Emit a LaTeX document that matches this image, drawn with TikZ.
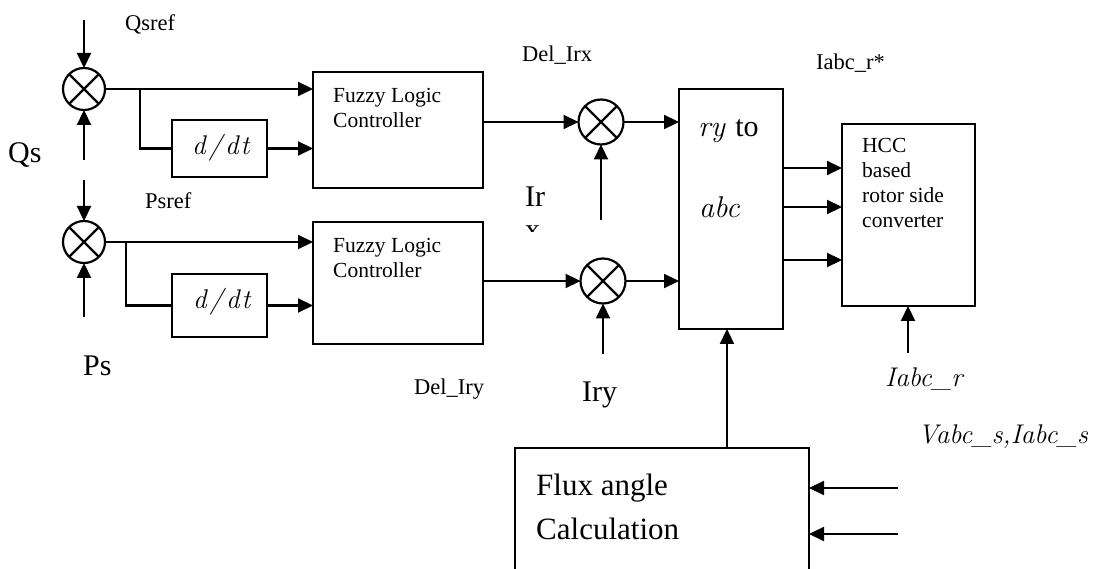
\documentclass[tikz,border=0pt]{standalone}
\usepackage{fontspec}
\setmainfont{Liberation Serif}
\newfontfamily\lmfont{Latin Modern Roman}
\usetikzlibrary{arrows.meta}
\tikzset{
  ln/.style={line width=2.2pt},
  arr/.style={ln, -{Triangle[length=15pt,width=14pt]}},
  blk/.style={draw, ln, rectangle, inner sep=0pt, outer sep=0pt, anchor=north west},
  sumj/.style={draw, ln, circle, inner sep=0pt, outer sep=0pt, minimum size=#1},
  lbl/.style={anchor=base west, inner sep=0pt, font=\fontsize{22.5}{27}\selectfont},
  big/.style={anchor=base west, inner sep=0pt, font=\fontsize{30}{36}\selectfont},
  boxtxt/.style={anchor=north west, inner sep=0pt, align=left, font=\fontsize{21.5}{25}\selectfont},
  mth/.style={anchor=base west, inner sep=0pt, font=\lmfont\itshape\fontsize{#1}{#1}\selectfont},
  mth/.default=30
}
\begin{document}
\begin{tikzpicture}[x=1pt,y=-1pt]
\useasboundingbox (0,0) rectangle (1104,569);
\clip (0,0) rectangle (1104,569);

% summing junctions
\node[sumj=42] (S1) at (84,89) {};
\node[sumj=42] (S2) at (84,242) {};
\node[sumj=45] (M1) at (601,122) {};
\node[sumj=45] (M2) at (603,281) {};
\foreach \s in {S1,S2,M1,M2}{
  \draw[ln] (\s.north west) -- (\s.south east) (\s.north east) -- (\s.south west);
}

% blocks
\node[blk, minimum width=95, minimum height=57] (D1) at (172,120) {};
\node[blk, minimum width=95, minimum height=63] (D2) at (172,274) {};
\node[blk, minimum width=170, minimum height=116] (F1) at (313,72) {};
\node[blk, minimum width=170, minimum height=122] (F2) at (313,222) {};
\node[blk, minimum width=104, minimum height=240] (RA) at (679,89) {};
\node[blk, minimum width=133, minimum height=182] (H) at (842,124) {};
\node[blk, minimum width=294, minimum height=200] (FA) at (515,448) {};

% free ends
\coordinate (qref) at (84,20);
\coordinate (qs) at (84,160);
\coordinate (pref) at (84,180);
\coordinate (ps) at (84,317);
\coordinate (b1) at (140,89);
\coordinate (b2) at (126,242);
\coordinate (irx) at (601,220);
\coordinate (iry) at (603,354);
\coordinate (ir) at (908,353);
\coordinate (fa1) at (727,448);
\coordinate (v1) at (898,488);
\coordinate (v2) at (898,534);

% connectors
\draw[arr] (qref) -- (S1);
\draw[arr] (qs) -- (S1);
\draw[arr] (pref) -- (S2);
\draw[arr] (ps) -- (S2);
\draw[arr] (S1.east) -- (S1.east -| F1.west);
\draw[arr] (S2.east) -- (S2.east -| F2.west);
\draw[ln] (b1) |- (D1.west);
\draw[ln] (b2) |- (D2.west);
\draw[arr] (D1.east) -- (D1.east -| F1.west);
\draw[arr] (D2.east) -- (D2.east -| F2.west);
\draw[arr] (F1.east |- M1) -- (M1.west);
\draw[arr] (F2.east |- M2) -- (M2.west);
\draw[arr] (irx) -- (M1);
\draw[arr] (iry) -- (M2);
\draw[arr] (M1.east) -- (M1.east -| RA.west);
\draw[arr] (M2.east) -- (M2.east -| RA.west);
\foreach \y in {168,207,260}{
  \draw[arr] (RA.east |- 0,\y) -- (H.west |- 0,\y);
}
\draw[arr] (ir) -- (ir |- H.south);
\draw[arr] (fa1) -- (fa1 |- RA.south);
\draw[arr] (v1) -- (v1 -| FA.east);
\draw[arr] (v2) -- (v2 -| FA.east);

% labels
\node[lbl] (tQsref) at (125,31) {Qsref};
\node[lbl] (tPsref) at (145,209) {Psref};
\node[big] (tQs) at (8,163) {Qs};
\node[big] (tPs) at (83,376) {Ps};
\node[lbl] (tDelx) at (522,62) {Del\_Irx};
\node[lbl] (tDely) at (414,395) {Del\_Iry};
\node[lbl] (tIabcstar) at (816,70) {Iabc\_r*};
\node[big] (tIr) at (525,207) {Ir};
\begin{scope}
  \clip (515,225) rectangle (550,232);
  \node[big] (tIrfrag) at (525,240) {x};
\end{scope}
\node[big] (tIry) at (582,402) {Iry};
\node[boxtxt] (tF1) at (333,88) {Fuzzy Logic\\Controller};
\node[boxtxt] (tF2) at (333,238) {Fuzzy Logic\\Controller};
\node[boxtxt] (tH) at (862,138) {HCC\\based\\rotor side\\converter};
\node[anchor=north west, inner sep=0pt, align=left, font=\fontsize{31}{44}\selectfont] (tFA) at (536,474) {Flux angle\\Calculation};
\node[mth=27] (tD1) at (192,155) {d\hspace{3pt}/\hspace{3pt}d\hspace{2pt}t};
\node[mth=27] (tD2) at (193,309) {d\hspace{3pt}/\hspace{3pt}d\hspace{2pt}t};
\node[mth] (tRy) at (698,137) {ry {\rmfamily\upshape to}};
\node[mth] (tAbc) at (699,218) {abc};
\node[mth=27] (tIabcr) at (885,387) {Iabc\_r};
\node[mth=27] (tV) at (918,444) {Vabc\_s,Iabc\_s};
\end{tikzpicture}
\end{document}
